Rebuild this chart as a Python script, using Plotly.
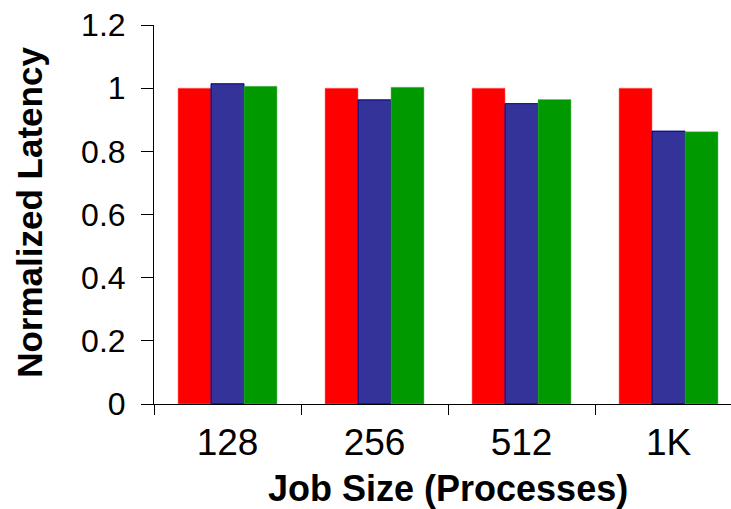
import plotly.graph_objects as go

# job sizes and normalized latency of the three configurations
job_sizes = ['128', '256', '512', '1K']
series_red = [1.0, 1.0, 1.0, 1.0]
series_blue = [1.014, 0.963, 0.951, 0.864]
series_green = [1.006, 1.003, 0.964, 0.862]

y_ticks = [0, 0.2, 0.4, 0.6, 0.8, 1.0, 1.2]
y_tick_text = ['0', '0.2', '0.4', '0.6', '0.8', '1', '1.2']

FONT = 'Arial, Liberation Sans, sans-serif'

fig = go.Figure()
fig.add_trace(go.Bar(x=job_sizes, y=series_red, marker=dict(color='#FF0000', line=dict(color='#FF6666', width=0.5))))
fig.add_trace(go.Bar(x=job_sizes, y=series_blue, marker=dict(color='#333399', line=dict(color='#000080', width=1))))
fig.add_trace(go.Bar(x=job_sizes, y=series_green, marker=dict(color='#009900', line=dict(color='#66BB66', width=0.5))))

fig.update_layout(
    width=731, height=509,
    margin=dict(l=154, r=0, t=25, b=105, autoexpand=False),
    paper_bgcolor='white', plot_bgcolor='white',
    barmode='group', bargap=0.327, bargroupgap=0,
    showlegend=False,
    font=dict(family=FONT, color='black'),
)
fig.update_xaxes(
    type='category', range=[-0.5, 3.425],
    showline=True, linecolor='black', linewidth=1,
    ticks='outside', tickson='boundaries', ticklen=10, tickcolor='black',
    tickfont=dict(size=37), ticklabelstandoff=6, showgrid=False, zeroline=False,
)
fig.update_yaxes(
    range=[0, 1.2], tickvals=y_ticks, ticktext=y_tick_text,
    showline=True, linecolor='black', linewidth=1,
    ticks='outside', ticklen=12, tickcolor='black',
    tickfont=dict(size=32), ticklabelstandoff=9, showgrid=False, zeroline=False,
)

# axis titles
fig.add_annotation(text='<b>Job Size (Processes)</b>', xref='paper', yref='paper',
                   x=0.51, y=-0.222, xanchor='center', yanchor='middle',
                   showarrow=False, font=dict(size=36))
fig.add_annotation(text='<b>Normalized Latency</b>', xref='paper', yref='paper',
                   x=-0.215, y=0.507, xanchor='center', yanchor='middle', textangle=-90,
                   showarrow=False, font=dict(size=35))

fig.write_html('out.html', config={'displayModeBar': False},
               post_script="document.body.style.margin='0';")
